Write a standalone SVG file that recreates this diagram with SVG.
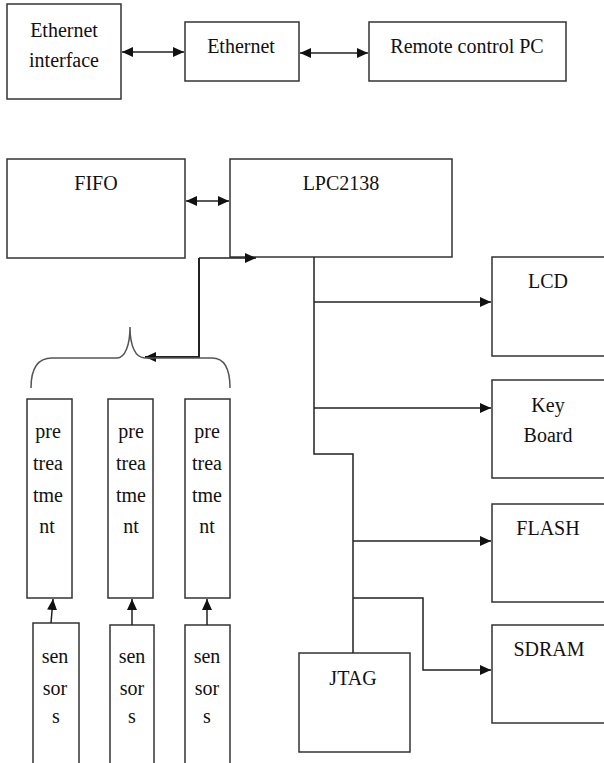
<svg xmlns="http://www.w3.org/2000/svg" width="604" height="763" viewBox="0 0 604 763">
<style>
.box{fill:#fff;stroke:#333;stroke-width:1.5}
.c{fill:none;stroke:#222;stroke-width:1.5}
.brace{fill:none;stroke:#555;stroke-width:1.5}
</style>
<defs>
<marker id="ah" markerUnits="userSpaceOnUse" markerWidth="12" markerHeight="10" refX="11" refY="5" orient="auto-start-reverse">
<path d="M0,0 L11,5 L0,10 z" fill="#111"/>
</marker>
</defs>
<rect width="604" height="763" fill="#fff"/>
<g id="eth-interface"><rect class="box" x="7" y="4" width="114" height="95"/><text font-family="Liberation Serif" font-size="20" fill="#111" text-anchor="middle" x="64" y="37">Ethernet</text><text font-family="Liberation Serif" font-size="20" fill="#111" text-anchor="middle" x="64" y="67">interface</text></g>
<g id="ethernet"><rect class="box" x="185" y="22" width="114" height="59"/><text font-family="Liberation Serif" font-size="20" fill="#111" text-anchor="middle" x="241" y="53">Ethernet</text></g>
<g id="remote-pc"><rect class="box" x="369" y="22" width="197" height="59"/><text font-family="Liberation Serif" font-size="20" fill="#111" text-anchor="middle" x="467" y="53">Remote control PC</text></g>
<g id="fifo"><rect class="box" x="7" y="159" width="178" height="99"/><text font-family="Liberation Serif" font-size="20" fill="#111" text-anchor="middle" x="96" y="190">FIFO</text></g>
<g id="lpc2138"><rect class="box" x="230" y="159" width="222" height="98"/><text font-family="Liberation Serif" font-size="20" fill="#111" text-anchor="middle" x="341" y="190">LPC2138</text></g>
<g id="lcd"><rect class="box" x="492" y="257" width="130" height="99"/><text font-family="Liberation Serif" font-size="20" fill="#111" text-anchor="middle" x="548" y="288">LCD</text></g>
<g id="keyboard"><rect class="box" x="492" y="380" width="130" height="98"/><text font-family="Liberation Serif" font-size="20" fill="#111" text-anchor="middle" x="548" y="412">Key</text><text font-family="Liberation Serif" font-size="20" fill="#111" text-anchor="middle" x="548" y="442">Board</text></g>
<g id="flash"><rect class="box" x="492" y="504" width="130" height="98"/><text font-family="Liberation Serif" font-size="20" fill="#111" text-anchor="middle" x="548" y="535">FLASH</text></g>
<g id="sdram"><rect class="box" x="492" y="625" width="130" height="98"/><text font-family="Liberation Serif" font-size="20" fill="#111" text-anchor="middle" x="549" y="656">SDRAM</text></g>
<g id="jtag"><rect class="box" x="299" y="653" width="111" height="99"/><text font-family="Liberation Serif" font-size="20" fill="#111" text-anchor="middle" x="353" y="685">JTAG</text></g>
<g id="pre1"><rect class="box" x="27" y="399" width="45" height="199"/><text font-family="Liberation Serif" font-size="20" fill="#111" text-anchor="middle" x="48" y="438">pre</text><text font-family="Liberation Serif" font-size="20" fill="#111" text-anchor="middle" x="48" y="470">trea</text><text font-family="Liberation Serif" font-size="20" fill="#111" text-anchor="middle" x="48" y="502">tme</text><text font-family="Liberation Serif" font-size="20" fill="#111" text-anchor="middle" x="47" y="533">nt</text></g>
<g id="pre2"><rect class="box" x="108" y="399" width="45" height="199"/><text font-family="Liberation Serif" font-size="20" fill="#111" text-anchor="middle" x="131" y="438">pre</text><text font-family="Liberation Serif" font-size="20" fill="#111" text-anchor="middle" x="131" y="470">trea</text><text font-family="Liberation Serif" font-size="20" fill="#111" text-anchor="middle" x="131" y="502">tme</text><text font-family="Liberation Serif" font-size="20" fill="#111" text-anchor="middle" x="131" y="533">nt</text></g>
<g id="pre3"><rect class="box" x="185" y="399" width="45" height="199"/><text font-family="Liberation Serif" font-size="20" fill="#111" text-anchor="middle" x="207" y="438">pre</text><text font-family="Liberation Serif" font-size="20" fill="#111" text-anchor="middle" x="207" y="470">trea</text><text font-family="Liberation Serif" font-size="20" fill="#111" text-anchor="middle" x="207" y="502">tme</text><text font-family="Liberation Serif" font-size="20" fill="#111" text-anchor="middle" x="207" y="533">nt</text></g>
<g id="sen1"><rect class="box" x="33" y="623" width="46" height="150"/><text font-family="Liberation Serif" font-size="20" fill="#111" text-anchor="middle" x="55" y="663">sen</text><text font-family="Liberation Serif" font-size="20" fill="#111" text-anchor="middle" x="55" y="695">sor</text><text font-family="Liberation Serif" font-size="20" fill="#111" text-anchor="middle" x="56" y="723">s</text></g>
<g id="sen2"><rect class="box" x="110" y="625" width="44" height="150"/><text font-family="Liberation Serif" font-size="20" fill="#111" text-anchor="middle" x="132" y="663">sen</text><text font-family="Liberation Serif" font-size="20" fill="#111" text-anchor="middle" x="132" y="695">sor</text><text font-family="Liberation Serif" font-size="20" fill="#111" text-anchor="middle" x="132" y="723">s</text></g>
<g id="sen3"><rect class="box" x="185" y="625" width="45" height="150"/><text font-family="Liberation Serif" font-size="20" fill="#111" text-anchor="middle" x="207" y="663">sen</text><text font-family="Liberation Serif" font-size="20" fill="#111" text-anchor="middle" x="207" y="695">sor</text><text font-family="Liberation Serif" font-size="20" fill="#111" text-anchor="middle" x="207" y="723">s</text></g>
<g id="connectors">
<path class="c" d="M122,52 L184,52" marker-start="url(#ah)" marker-end="url(#ah)"/>
<path class="c" d="M300,53 L368,53" marker-start="url(#ah)" marker-end="url(#ah)"/>
<path class="c" d="M186,201 L229,201" marker-start="url(#ah)" marker-end="url(#ah)"/>
<path class="c" d="M199,258 L256,258" marker-end="url(#ah)"/>
<path class="c" style="stroke-width:2" d="M199,258 L199,357 L145,357" marker-end="url(#ah)"/>
<path class="brace" d="M31,388 C31,368 38,358 52,358 L117,358 C125,358 130,345 130,327 C130,345 135,358 145,358 L212,358 C224,358 230,368 230,388"/>
<path class="c" d="M314,257 L314,454 L353,454 L353,653"/>
<path class="c" d="M314,302 L491,302" marker-end="url(#ah)"/>
<path class="c" d="M314,408 L491,408" marker-end="url(#ah)"/>
<path class="c" d="M353,541 L491,541" marker-end="url(#ah)"/>
<path class="c" d="M353,598 L423,598 L423,670 L491,670" marker-end="url(#ah)"/>
<path class="c" d="M51,623 L53,599" marker-end="url(#ah)"/>
<path class="c" d="M132,625 L132,599" marker-end="url(#ah)"/>
<path class="c" d="M207,625 L207,599" marker-end="url(#ah)"/>
</g>
</svg>
